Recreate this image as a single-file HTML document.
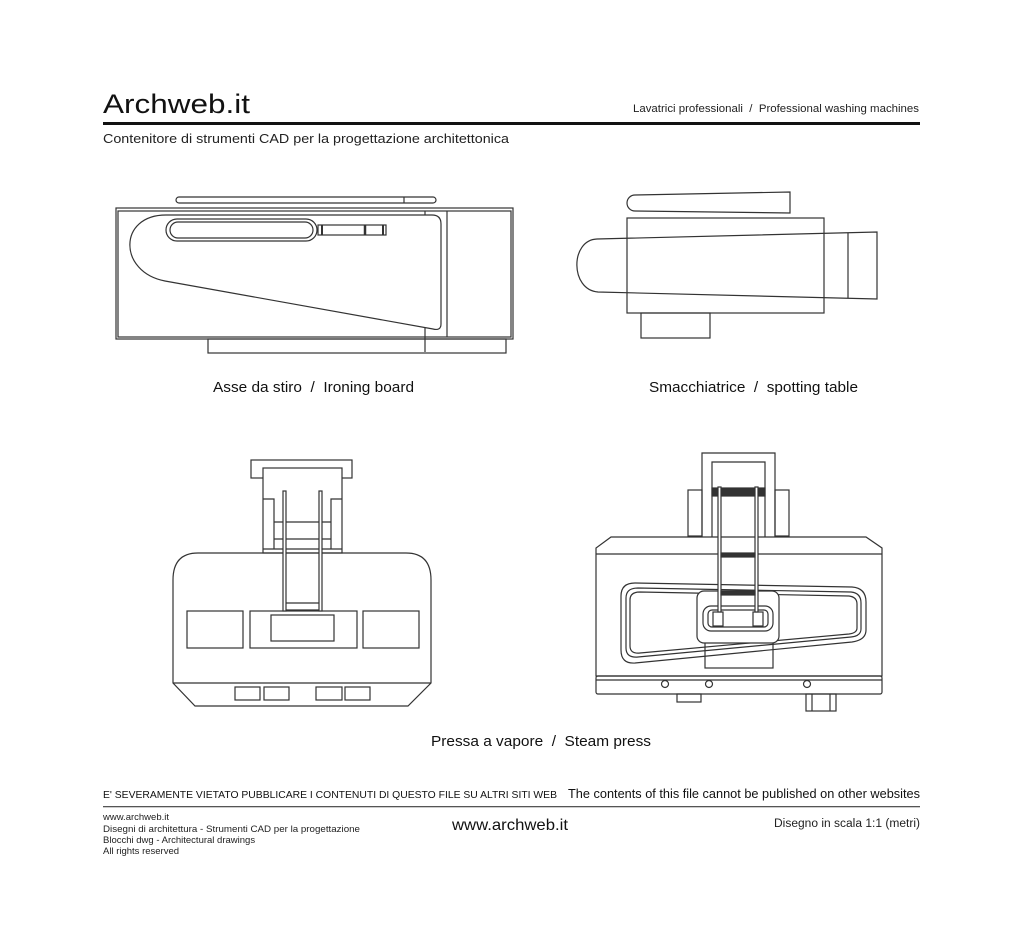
<!DOCTYPE html>
<html><head><meta charset="utf-8"><style>
body{margin:0;background:#fff;width:1024px;height:950px;overflow:hidden}
svg{display:block;font-family:"Liberation Sans",Arial,sans-serif}
</style></head><body>
<svg width="1024" height="950" viewBox="0 0 1024 950" xmlns="http://www.w3.org/2000/svg">
<rect width="1024" height="950" fill="#fff"/>
<text x="103" y="113" font-size="27" fill="#111" textLength="147" lengthAdjust="spacingAndGlyphs">Archweb.it</text>
<text x="633" y="112" font-size="11" fill="#222" textLength="286" lengthAdjust="spacingAndGlyphs">Lavatrici professionali &#160;/&#160; Professional washing machines</text>
<rect x="103" y="122" width="817" height="3" fill="#111"/>
<text x="103" y="143" font-size="13" fill="#222" textLength="406" lengthAdjust="spacingAndGlyphs">Contenitore di strumenti CAD per la progettazione architettonica</text>

<g fill="none" stroke="#333" stroke-width="1.2">
<!-- ironing board -->
<rect x="176" y="197" width="260" height="6" rx="3"/>
<line x1="404" y1="197" x2="404" y2="203"/>
<rect x="116" y="208" width="397" height="131"/>
<rect x="118" y="211" width="393" height="126"/>
<line x1="447" y1="211" x2="447" y2="337"/>
<line x1="425" y1="211" x2="425" y2="352"/>
<rect x="208" y="339" width="298" height="14"/>
<path d="M166,215 L432,215 Q441,215 441,224 L441,324 Q441,331 433,329 L165,281 C118,272 118,215 166,215 Z" fill="#fff"/>
<rect x="166" y="219" width="151" height="22" rx="11"/>
<rect x="170" y="222" width="143" height="16" rx="8"/>
<rect x="318" y="225" width="68" height="10"/>
<line x1="322" y1="225" x2="322" y2="235" stroke-width="2"/>
<line x1="365" y1="225" x2="365" y2="235" stroke-width="2.5"/>
<line x1="383" y1="225" x2="383" y2="235" stroke-width="2"/>

<!-- spotting table -->
<path d="M635,195 L790,192 L790,213 L635,211 A8,8 0 0 1 635,195 Z"/>
<rect x="627" y="218" width="197" height="95"/>
<path d="M597,239 L877,232 L877,299 L598,292 C570,290 570,240 597,239 Z"/>
<line x1="848" y1="233" x2="848" y2="298"/>
<rect x="641" y="313" width="69" height="25"/>

<!-- steam press left -->
<rect x="251" y="460" width="101" height="18"/>
<rect x="263" y="468" width="79" height="85" fill="#fff"/>
<path d="M263,499 H274 V549 M342,499 H331 V549"/>
<line x1="274" y1="522" x2="331" y2="522"/>
<line x1="274" y1="539" x2="331" y2="539"/>
<line x1="263" y1="549" x2="342" y2="549"/>
<path d="M198,553 H406 Q431,553 431,580 V683 L408,706 H195 L173,683 V580 Q173,553 198,553 Z"/>
<line x1="173" y1="683" x2="431" y2="683"/>
<rect x="187" y="611" width="56" height="37"/>
<rect x="250" y="611" width="107" height="37"/>
<rect x="271" y="615" width="63" height="26"/>
<rect x="363" y="611" width="56" height="37"/>
<rect x="235" y="687" width="25" height="13"/>
<rect x="264" y="687" width="25" height="13"/>
<rect x="316" y="687" width="26" height="13"/>
<rect x="345" y="687" width="25" height="13"/>
<rect x="283" y="491" width="3" height="120" fill="#fff"/>
<rect x="319" y="491" width="3" height="120" fill="#fff"/>
<line x1="286" y1="603" x2="319" y2="603"/>
<line x1="286" y1="610" x2="319" y2="610"/>

<!-- steam press right -->
<rect x="688" y="490" width="14" height="46"/>
<rect x="775" y="490" width="14" height="46"/>
<path d="M702,537 V453 H775 V537 M712,537 V462 H765 V537"/>
<rect x="712" y="488" width="53" height="8" fill="#333"/>
<path d="M611,537 H866 L882,548 V676 H596 V548 Z" fill="#fff"/>
<line x1="596" y1="554" x2="882" y2="554"/>
<rect x="596" y="676" width="286" height="18" rx="2"/>
<line x1="596" y1="680" x2="882" y2="680"/>
<circle cx="665" cy="684" r="3.5"/><circle cx="709" cy="684" r="3.5"/><circle cx="807" cy="684" r="3.5"/>
<rect x="677" y="694" width="24" height="8"/>
<rect x="806" y="694" width="30" height="17"/>
<line x1="812" y1="694" x2="812" y2="711"/><line x1="830" y1="694" x2="830" y2="711"/>
<rect x="705" y="640" width="68" height="28"/>
<path d="M635,583 L852,587 Q866,588 866,602 V630 Q866,640 852,642 L635,663 Q621,664 621,650 V596 Q621,583 635,583 Z"/>
<path d="M638,588 L851,592 Q861,593 861,603 V629 Q861,636 851,637 L638,657 Q626,658 626,648 V598 Q626,588 638,588 Z"/>
<path d="M640,592 L849,596 Q857,597 857,604 V628 Q857,633 849,634 L640,653 Q630,654 630,646 V600 Q630,592 640,592 Z"/>
<rect x="697" y="591" width="82" height="52" rx="7" fill="#fff"/>
<rect x="703" y="606" width="70" height="25" rx="8"/>
<rect x="708" y="610" width="60" height="17" rx="4"/>
<rect x="713" y="612" width="10" height="14"/>
<rect x="753" y="612" width="10" height="14"/>
<rect x="718" y="487" width="3" height="125" fill="#fff"/>
<rect x="755" y="487" width="3" height="125" fill="#fff"/>
<rect x="721" y="553" width="34" height="4" fill="#333"/>
<rect x="721" y="591" width="34" height="4" fill="#333"/>
</g>

<g font-size="15" fill="#111">
<text x="213" y="392" textLength="201" lengthAdjust="spacingAndGlyphs">Asse da stiro &#160;/&#160; Ironing board</text>
<text x="649" y="392" textLength="209" lengthAdjust="spacingAndGlyphs">Smacchiatrice &#160;/&#160; spotting table</text>
<text x="431" y="746" textLength="220" lengthAdjust="spacingAndGlyphs">Pressa a vapore &#160;/&#160; Steam press</text>
</g>

<text x="103" y="798" font-size="10.5" fill="#111" textLength="454" lengthAdjust="spacingAndGlyphs">E' SEVERAMENTE VIETATO PUBBLICARE I CONTENUTI DI QUESTO FILE SU ALTRI SITI WEB</text>
<text x="568" y="798" font-size="12.5" fill="#111" textLength="352" lengthAdjust="spacingAndGlyphs">The contents of this file cannot be published on other websites</text>
<rect x="103" y="806" width="817" height="1.3" fill="#555"/>
<g font-size="9.5" fill="#222">
<text x="103" y="820">www.archweb.it</text>
<text x="103" y="832" textLength="257" lengthAdjust="spacingAndGlyphs">Disegni di architettura - Strumenti CAD  per la progettazione</text>
<text x="103" y="843">Blocchi dwg - Architectural drawings</text>
<text x="103" y="854">All rights reserved</text>
</g>
<text x="452" y="830" font-size="16" fill="#111" textLength="116" lengthAdjust="spacingAndGlyphs">www.archweb.it</text>
<text x="774" y="827" font-size="11.5" fill="#222" textLength="146" lengthAdjust="spacingAndGlyphs">Disegno in scala 1:1 (metri)</text>
</svg>
</body></html>
